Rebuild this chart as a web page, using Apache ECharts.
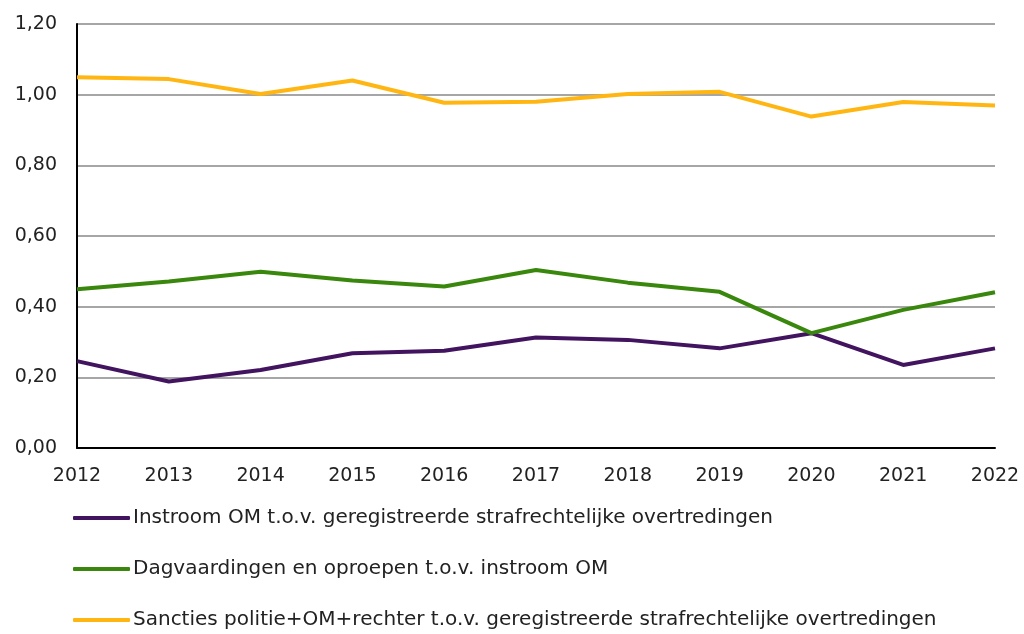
<!DOCTYPE html>
<html><head><meta charset="utf-8">
<script src="https://cdn.jsdelivr.net/npm/echarts@6/dist/echarts.min.js"></script>
<style>html,body{margin:0;padding:0;background:#fff}#c{width:1024px;height:634px}</style>
</head><body><div id="c"></div>
<script>
const years = ['2012','2013','2014','2015','2016','2017','2018','2019','2020','2021','2022'];
const seriesNames = [
  'Instroom OM t.o.v. geregistreerde strafrechtelijke overtredingen',
  'Dagvaardingen en oproepen t.o.v. instroom OM',
  'Sancties politie+OM+rechter t.o.v. geregistreerde strafrechtelijke overtredingen'
];
const instroom = [0.246, 0.188, 0.221, 0.268, 0.275, 0.313, 0.306, 0.282, 0.325, 0.235, 0.282];
const dagvaardingen = [0.449, 0.471, 0.499, 0.474, 0.457, 0.504, 0.468, 0.442, 0.325, 0.391, 0.441];
const sancties = [1.049, 1.044, 1.002, 1.040, 0.977, 0.980, 1.002, 1.008, 0.938, 0.979, 0.969];
const colors = ['#42145f', '#39870c', '#ffb612'];
const values = [instroom, dagvaardingen, sancties];

const chart = echarts.init(document.getElementById('c'));
const font = 'Verdana, "DejaVu Sans", sans-serif';
chart.setOption({
  animation: false,
  color: colors,
  grid: {left: 77, right: 29, top: 24, bottom: 186},
  xAxis: {
    type: 'category', data: years, boundaryGap: false,
    axisLine: {lineStyle: {color: '#000', width: 2}},
    axisTick: {show: false},
    axisLabel: {color: '#222', fontSize: 19, fontFamily: font, margin: 19, interval: 0}
  },
  yAxis: {
    type: 'value', min: 0, max: 1.2, interval: 0.2,
    axisLine: {show: true, lineStyle: {color: '#000', width: 2}},
    axisTick: {show: false},
    splitLine: {lineStyle: {color: '#a6a6a6', width: 2}},
    axisLabel: {color: '#222', fontSize: 19, fontFamily: font, margin: 20,
      formatter: v => v.toFixed(2).replace('.', ',')}
  },
  legend: {
    orient: 'vertical', left: 73, top: 508, height: 130, padding: 0,
    itemWidth: 57, itemHeight: 4, itemGap: 31,
    icon: 'roundRect',
    textStyle: {color: '#222', fontSize: 20, fontFamily: font, padding: [0,0,0,-2]},
    data: seriesNames
  },
  series: seriesNames.map((n, i) => ({
    name: n, type: 'line', data: values[i], symbol: 'none',
    lineStyle: {width: 4, color: colors[i]}
  }))
});
</script></body></html>
